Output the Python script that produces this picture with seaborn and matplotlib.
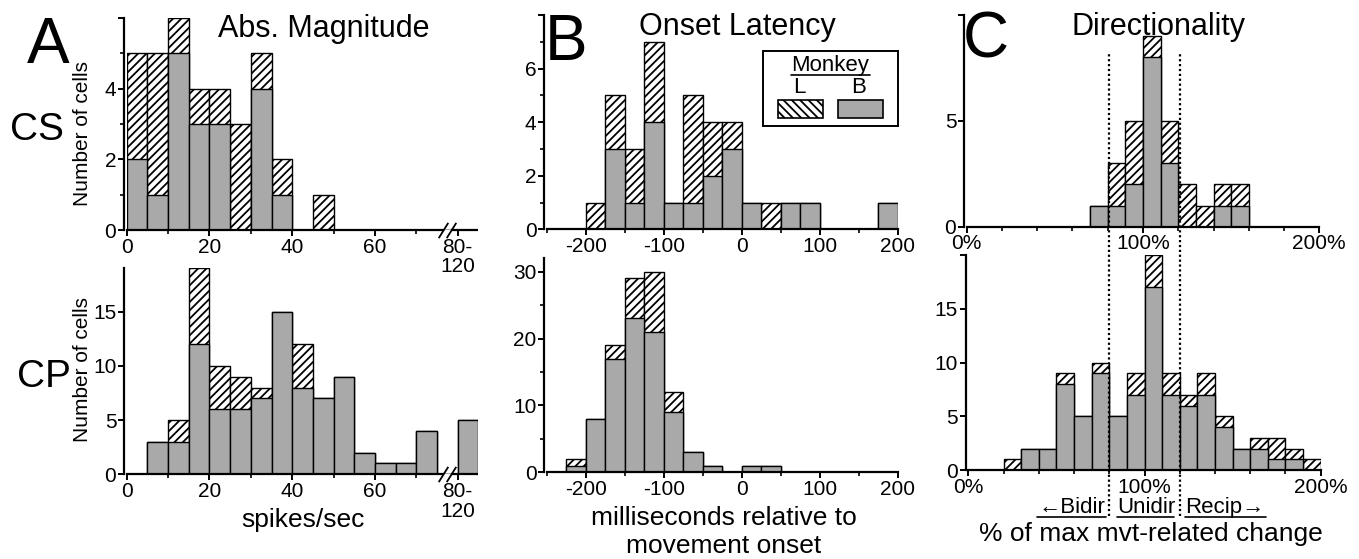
import numpy as np
import pandas as pd
import matplotlib
matplotlib.use("Agg")
import matplotlib.pyplot as plt
import matplotlib.transforms as mtransforms
from matplotlib.lines import Line2D
from matplotlib.patches import Rectangle
import seaborn as sns

# ---- data (bin left edges, counts: monkey B = gray, total = B + L hatched) ----
# A: abs. magnitude, 5 spikes/s bins; last bin (80) stands for "80-120"
mag_bins = [0, 5, 10, 15, 20, 25, 30, 35, 40, 45, 50, 55, 60, 65, 70, 75, 80]
mag_cs_b = [2, 1, 5, 3, 3, 0, 4, 1, 0, 0, 0, 0, 0, 0, 0, 0, 0]
mag_cs_tot = [5, 5, 6, 4, 4, 3, 5, 2, 0, 1, 0, 0, 0, 0, 0, 0, 0]
mag_cp_b = [0, 3, 3, 12, 6, 6, 7, 15, 8, 7, 9, 2, 1, 1, 4, 0, 5]
mag_cp_tot = [0, 3, 5, 19, 10, 9, 8, 15, 12, 7, 9, 2, 1, 1, 4, 0, 5]

# B: onset latency, 25 ms bins
lat_cs_bins = [-200, -175, -150, -125, -100, -75, -50, -25, 0, 25, 50, 75, 100, 125, 150, 175]
lat_cs_b = [0, 3, 1, 4, 1, 1, 2, 3, 1, 0, 1, 1, 0, 0, 0, 1]
lat_cs_tot = [1, 5, 3, 7, 1, 5, 4, 4, 1, 1, 1, 1, 0, 0, 0, 1]
lat_cp_bins = [-225, -200, -175, -150, -125, -100, -75, -50, -25, 0, 25]
lat_cp_b = [1, 8, 17, 23, 21, 9, 3, 1, 0, 1, 1]
lat_cp_tot = [2, 8, 19, 29, 30, 12, 3, 1, 0, 1, 1]

# C: directionality, 10% bins
dir_cs_bins = [70, 80, 90, 100, 110, 120, 130, 140, 150]
dir_cs_b = [1, 1, 2, 8, 3, 0, 0, 1, 1]
dir_cs_tot = [1, 3, 5, 9, 5, 2, 1, 2, 2]
dir_cp_bins = [20, 30, 40, 50, 60, 70, 80, 90, 100, 110, 120, 130, 140, 150, 160, 170, 180, 190]
dir_cp_b = [0, 2, 2, 8, 5, 9, 5, 7, 17, 7, 6, 7, 4, 2, 2, 1, 1, 0]
dir_cp_tot = [1, 2, 2, 9, 5, 10, 5, 9, 20, 9, 7, 9, 5, 2, 3, 3, 2, 1]

GRAY = "#a9a9a9"
W, H = 1359, 559

sns.set_theme(style="ticks")
plt.rcParams["font.family"] = ["Liberation Sans", "DejaVu Sans"]
plt.rcParams["hatch.linewidth"] = 1.3
plt.rcParams["hatch.color"] = "black"
plt.rcParams["axes.unicode_minus"] = False
for k in ("text.color", "axes.labelcolor", "xtick.color", "ytick.color", "axes.edgecolor"):
    plt.rcParams[k] = "black"

fig = plt.figure(figsize=(W / 100, H / 100), dpi=100)


def stacked_hist(ax, bins, width, b, tot):
    edges = list(bins) + [bins[-1] + width]
    df = pd.DataFrame({"x": np.array(bins) + width / 2, "b": b, "tot": tot})
    sns.histplot(data=df, x="x", weights="tot", bins=edges, ax=ax, color="white",
                 edgecolor="black", linewidth=1.0, alpha=1, hatch="////")
    sns.histplot(data=df, x="x", weights="b", bins=edges, ax=ax, color=GRAY,
                 edgecolor="black", linewidth=1.0, alpha=1)
    ax.set_xlabel("")
    ax.set_ylabel("")


def style(ax):
    sns.despine(ax=ax)
    ax.patch.set_alpha(0)
    ax.spines["left"].set_position(("outward", 2))
    for s in ("left", "bottom"):
        ax.spines[s].set_linewidth(1.6)
        ax.spines[s].set_color("black")
    ax.tick_params(which="major", length=4, width=1.4, labelsize=15, pad=1.5,
                   color="black", labelcolor="black")
    ax.tick_params(which="minor", length=3, width=1.2, color="black")


def px_rect(x0, x1, ytop, ybot):
    return [x0 / W, 1 - ybot / H, (x1 - x0) / W, (ybot - ytop) / H]


# ---- panel A ----
axes_a = [fig.add_axes(px_rect(126.7, 478.4, 18, 230)),
          fig.add_axes(px_rect(126.7, 478.4, 268.3, 474.3))]
for ax, b, tot, ymax, yt in [(axes_a[0], mag_cs_b, mag_cs_tot, 6, [0, 2, 4, 6]),
                             (axes_a[1], mag_cp_b, mag_cp_tot, 19, [0, 5, 10, 15])]:
    stacked_hist(ax, mag_bins, 5, b, tot)
    style(ax)
    ax.set_xlim(0, 85)
    ax.set_ylim(0, ymax)
    ax.set_xticks([0, 20, 40, 60, 80])
    ax.set_xticklabels(["0", "20", "40", "60", "80-\n120"], linespacing=1.05)
    ax.set_xticks([10, 30, 50, 70], minor=True)
    ax.set_yticks(yt)
    ax.set_yticklabels([str(v) if v != 6 else "" for v in yt])
    if ymax == 6:
        ax.set_yticks([1, 3, 5], minor=True)
    # axis break
    ax.spines["bottom"].set_bounds(0, 76.4)
    tr = mtransforms.blended_transform_factory(ax.transData, ax.transAxes)
    ax.plot([78.4, 85], [0, 0], color="black", lw=1.6, transform=tr, clip_on=False,
            solid_capstyle="butt")
    for xb in (76.4, 78.4):
        ax.plot([xb], [0], transform=tr, clip_on=False, marker=[(-1, -1.6), (1, 1.6)],
                markersize=11, color="black", mew=1.3)

# ---- panel B ----
ax_bcs = fig.add_axes(px_rect(547, 897.7, 15, 229.3))
ax_bcp = fig.add_axes(px_rect(547, 897.7, 258.3, 472.3))
stacked_hist(ax_bcs, lat_cs_bins, 25, lat_cs_b, lat_cs_tot)
stacked_hist(ax_bcp, lat_cp_bins, 25, lat_cp_b, lat_cp_tot)
for ax in (ax_bcs, ax_bcp):
    style(ax)
    ax.set_xlim(-250, 200)
    ax.set_xticks([-200, -100, 0, 100, 200])
    ax.set_xticks([-250, -150, -50, 50, 150], minor=True)
ax_bcs.set_ylim(0, 8)
ax_bcs.set_yticks([0, 2, 4, 6, 8])
ax_bcs.set_yticklabels(["0", "2", "4", "6", ""])
ax_bcs.set_yticks([1, 3, 5, 7], minor=True)
ax_bcp.set_ylim(0, 32)
ax_bcp.set_yticks([0, 10, 20, 30])
ax_bcp.set_yticks([5, 15, 25], minor=True)

# ---- panel C ----
ax_ccs = fig.add_axes(px_rect(966.7, 1319.3, 15, 226.7))
ax_ccp = fig.add_axes(px_rect(968.3, 1320.7, 255, 470))
stacked_hist(ax_ccs, dir_cs_bins, 10, dir_cs_b, dir_cs_tot)
stacked_hist(ax_ccp, dir_cp_bins, 10, dir_cp_b, dir_cp_tot)
for ax in (ax_ccs, ax_ccp):
    style(ax)
    ax.set_xlim(0, 200)
    ax.set_xticks([0, 100, 200])
    ax.set_xticklabels(["0%", "100%", "200%"])
    ax.set_xticks([20, 40, 60, 80, 120, 140, 160, 180], minor=True)
ax_ccs.set_ylim(0, 10)
ax_ccs.set_yticks([0, 5, 10])
ax_ccs.set_yticklabels(["0", "5", ""])
ax_ccp.set_ylim(0, 20)
ax_ccp.set_yticks([0, 5, 10, 15, 20])
ax_ccp.set_yticklabels(["0", "5", "10", "15", ""])

# dotted category boundaries spanning both C panels
btr = mtransforms.blended_transform_factory(ax_ccp.transData, fig.transFigure)
for xv in (80, 120):
    fig.add_artist(Line2D([xv, xv], [1 - 516 / H, 1 - 52 / H], transform=btr,
                          color="black", lw=1.6, linestyle=(0, (1, 1.2))))


def ftext(x, y, s, **kw):
    fig.text(x / W, 1 - y / H, s, **kw)


def fline(x0, x1, y, lw=1.2):
    fig.add_artist(Line2D([x0 / W, x1 / W], [1 - y / H, 1 - y / H], color="black", lw=lw))


# panel letters, row labels, titles
for x, y, s in [(27, 63, "A"), (545, 60, "B"), (963, 57, "C")]:
    ftext(x, y, s, fontsize=46, ha="left", va="baseline")
ftext(10, 140, "CS", fontsize=28, ha="left", va="baseline")
ftext(17, 387, "CP", fontsize=28, ha="left", va="baseline")
ftext(324, 37, "Abs. Magnitude", fontsize=22, ha="center", va="baseline")
ftext(737, 35, "Onset Latency", fontsize=22, ha="center", va="baseline")
ftext(1159, 35, "Directionality", fontsize=22, ha="center", va="baseline")
ftext(83, 133, "Number of cells", fontsize=15, rotation=90, ha="center", va="center")
ftext(83, 370, "Number of cells", fontsize=15, rotation=90, ha="center", va="center")

# axis labels
ftext(303, 527, "spikes/sec", fontsize=19, ha="center", va="baseline")
ftext(724, 525, "milliseconds relative to", fontsize=19, ha="center", va="baseline")
ftext(724, 553, "movement onset", fontsize=19, ha="center", va="baseline")
ftext(1151, 541, "% of max mvt-related change", fontsize=19, ha="center", va="baseline")
ftext(1072, 513, "\u2190Bidir", fontsize=16, ha="center", va="baseline")
ftext(1146, 513, "Unidir", fontsize=16, ha="center", va="baseline")
ftext(1225, 513, "Recip\u2192", fontsize=16, ha="center", va="baseline")
fline(1037, 1106, 517)
fline(1117, 1174, 517)
fline(1185, 1266, 517)

# legend box
fig.add_artist(Rectangle((762.7 / W, 1 - 126 / H), (898.3 - 762.7) / W, 75 / H,
                         transform=fig.transFigure, fill=False, edgecolor="black", lw=1.4))
ftext(830, 71, "Monkey", fontsize=16, ha="center", va="baseline")
fline(790.5, 870, 74.5)
ftext(799, 93, "L", fontsize=16, ha="center", va="baseline")
ftext(859, 93, "B", fontsize=16, ha="center", va="baseline")
fig.add_artist(Rectangle((778.3 / W, 1 - 118.3 / H), 44.4 / W, 18.3 / H,
                         transform=fig.transFigure, facecolor="white", edgecolor="black",
                         lw=1.2, hatch="\\\\\\\\"))
fig.add_artist(Rectangle((838.3 / W, 1 - 118.3 / H), 45 / W, 18.3 / H,
                         transform=fig.transFigure, facecolor=GRAY, edgecolor="black", lw=1.2))

fig.savefig("out.png", dpi=100)
